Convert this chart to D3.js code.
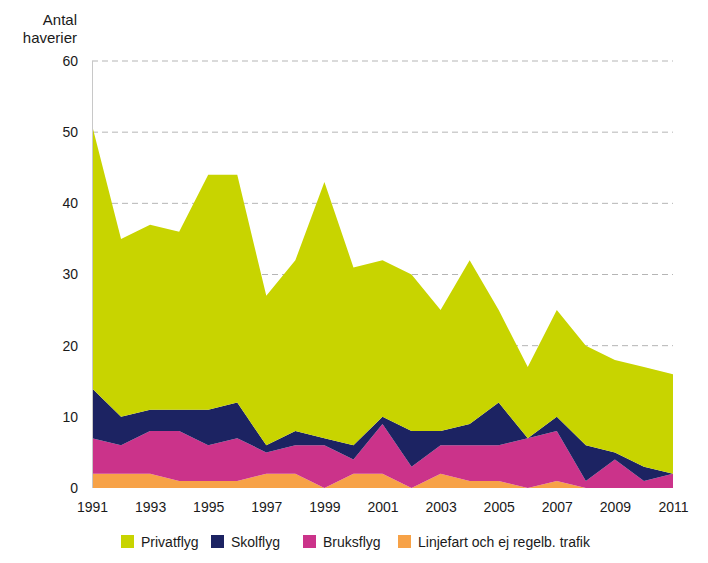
<!DOCTYPE html>
<html>
<head>
<meta charset="utf-8">
<script src="https://cdn.jsdelivr.net/npm/d3@7"></script>
<style>
  body { margin: 0; background: #fff; }
  text { font-family: "Liberation Sans", Arial, sans-serif; fill: #1a1a1a; }
</style>
</head>
<body>
<svg id="chart" width="708" height="563"></svg>
<script>
const years = d3.range(1991, 2012);
// Values per category (number of accidents)
const linjefart = [2,2,2,1,1,1,2,2,0,2,2,0,2,1,1,0,1,0,0,0,0];
const bruksflyg = [5,4,6,7,5,6,3,4,6,2,7,3,4,5,5,7,7,1,4,1,2];
const skolflyg  = [7,4,3,3,5,5,1,2,1,2,1,5,2,3,6,0,2,5,1,2,0];
const privatflyg= [37,25,26,25,33,32,21,24,36,25,22,22,17,23,13,10,15,14,13,14,14];
const yTicks = [0,10,20,30,40,50,60];
const xTickYears = [1991,1993,1995,1997,1999,2001,2003,2005,2007,2009,2011];

const seriesNames = ["Linjefart och ej regelb. trafik","Bruksflyg","Skolflyg","Privatflyg"];
const seriesValues = [linjefart, bruksflyg, skolflyg, privatflyg];
const colors = {"Privatflyg":"#c8d400","Skolflyg":"#1c2362","Bruksflyg":"#cb338a","Linjefart och ej regelb. trafik":"#f7a247"};
const legendOrder = ["Privatflyg","Skolflyg","Bruksflyg","Linjefart och ej regelb. trafik"];

const table = years.map((y,i) => {
  const row = {year: y};
  seriesNames.forEach((n,k) => row[n] = seriesValues[k][i]);
  return row;
});

const svg = d3.select("#chart");
const x = d3.scaleLinear().domain([1991, 2011]).range([92, 673]);
const y = d3.scaleLinear().domain([0, 60]).range([488, 61]);

// grid
svg.append("g").selectAll("line").data(yTicks.filter(t => t > 0)).join("line")
  .attr("x1", 92).attr("x2", 673)
  .attr("y1", d => y(d)).attr("y2", d => y(d))
  .attr("stroke", "#b5b5b5").attr("stroke-width", 1)
  .attr("stroke-dasharray", "6,4");

const stack = d3.stack().keys(seriesNames);
const stacked = stack(table);
const area = d3.area()
  .x(d => x(d.data.year))
  .y0(d => y(d[0]))
  .y1(d => y(d[1]));

svg.append("g").selectAll("path").data(stacked).join("path")
  .attr("d", area)
  .attr("fill", d => colors[d.key]);

// left axis line
svg.append("line").attr("x1", 92.5).attr("x2", 92.5).attr("y1", 61).attr("y2", 488)
  .attr("stroke", "#c8c8c8");

// y tick labels
const yAxis = d3.axisLeft(y).tickValues(yTicks).tickSize(0).tickPadding(14);
const gy = svg.append("g").attr("transform", "translate(92,0)").call(yAxis);
gy.select(".domain").remove();
gy.selectAll("text").style("font-size", "14px").style("font-family", "Liberation Sans, Arial, sans-serif").attr("fill", "#1a1a1a");

// x tick labels
const xAxis = d3.axisBottom(x).tickValues(xTickYears).tickFormat(d3.format("d")).tickSize(0).tickPadding(14);
const gx = svg.append("g").attr("transform", "translate(0,488)").call(xAxis);
gx.select(".domain").remove();
gx.selectAll("text").style("font-size", "14px").style("font-family", "Liberation Sans, Arial, sans-serif").attr("fill", "#1a1a1a");

// title
const title = svg.append("text").attr("text-anchor", "end").style("font-size", "15px");
title.append("tspan").attr("x", 77).attr("y", 25).text("Antal");
title.append("tspan").attr("x", 77).attr("y", 43).text("haverier");

// legend
const legendX = [121, 211, 303, 398];
const lg = svg.append("g").selectAll("g").data(legendOrder).join("g")
  .attr("transform", (d,i) => `translate(${legendX[i]},535)`);
lg.append("rect").attr("width", 13).attr("height", 13).attr("fill", d => colors[d]);
lg.append("text").attr("x", 20).attr("y", 12).style("font-size", "14px").text(d => d);
</script>
</body>
</html>
